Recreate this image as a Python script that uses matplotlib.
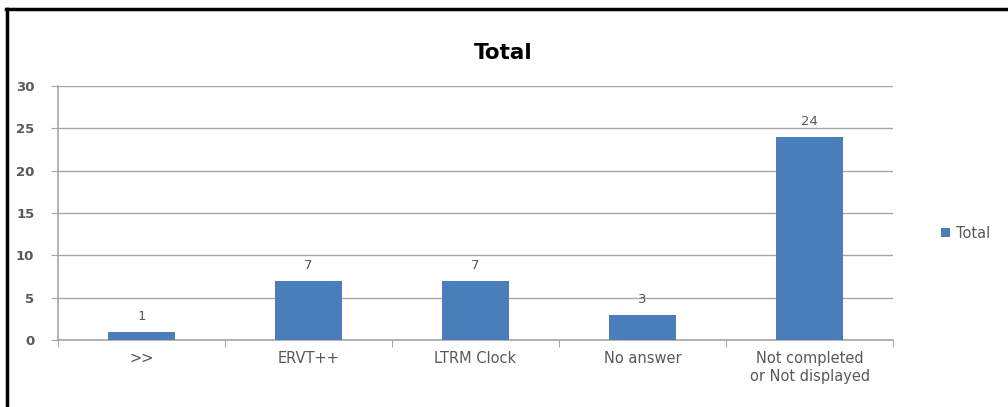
import matplotlib.pyplot as plt
from matplotlib.lines import Line2D

categories = ['>>', 'ERVT++', 'LTRM Clock', 'No answer', 'Not completed\nor Not displayed']
totals = [1, 7, 7, 3, 24]
yticks = [0, 5, 10, 15, 20, 25, 30]

bar_color = '#4A7EBB'
text_color = '#595959'
grid_color = '#A6A6A6'

fig = plt.figure(figsize=(10.08, 4.07), dpi=100)
ax = fig.add_axes([0.0575, 0.1646, 0.8285, 0.6241])

x = list(range(len(categories)))
bars = ax.bar(x, totals, width=0.4, color=bar_color, label='Total', zorder=3)
for xi, v in zip(x, totals):
    ax.annotate(str(v), (xi, v), xytext=(0, 6), textcoords='offset points',
                ha='center', va='bottom', fontsize=9.5, color=text_color)

ax.set_xlim(-0.5, len(categories) - 0.5)
ax.set_ylim(0, 30)
ax.set_yticks(yticks)
ax.set_yticklabels([str(t) for t in yticks], fontsize=9.5, color=text_color, fontweight='bold')
ax.yaxis.grid(True, color=grid_color, linewidth=1.0, zorder=0)
ax.tick_params(axis='y', length=5, color=grid_color, pad=12)

# category labels centered, ticks at boundaries
ax.set_xticks([i + 0.5 for i in range(-1, len(categories))])
ax.set_xticklabels([''] * (len(categories) + 1))
ax.tick_params(axis='x', length=5, color=grid_color, direction='out')
for xi, c in zip(x, categories):
    ax.text(xi, -1.3, c, ha='center', va='top', fontsize=10.5, color=text_color,
            linespacing=1.25)

for s in ['top', 'right']:
    ax.spines[s].set_visible(False)
ax.spines['left'].set_color(grid_color)
ax.spines['bottom'].set_color(grid_color)
ax.spines['left'].set_linewidth(1.2)
ax.spines['bottom'].set_linewidth(1.2)

fig.text(0.499, 0.87, 'Total', ha='center', va='center', fontsize=15.5, fontweight='bold', color='black')

fig.legend(handles=[bars], labels=['Total'], loc='center left', bbox_to_anchor=(0.921, 0.427),
           frameon=False, fontsize=10.5, handlelength=0.6, handleheight=0.6, handletextpad=0.4,
           labelcolor=text_color)

# outer frame (top and left edges visible)
fig.add_artist(Line2D([0.006, 1.0], [0.978, 0.978], color='black', linewidth=2.5, transform=fig.transFigure))
fig.add_artist(Line2D([0.007, 0.007], [0.0, 0.978], color='black', linewidth=2.5, transform=fig.transFigure))

fig.savefig('out.png', dpi=100)
